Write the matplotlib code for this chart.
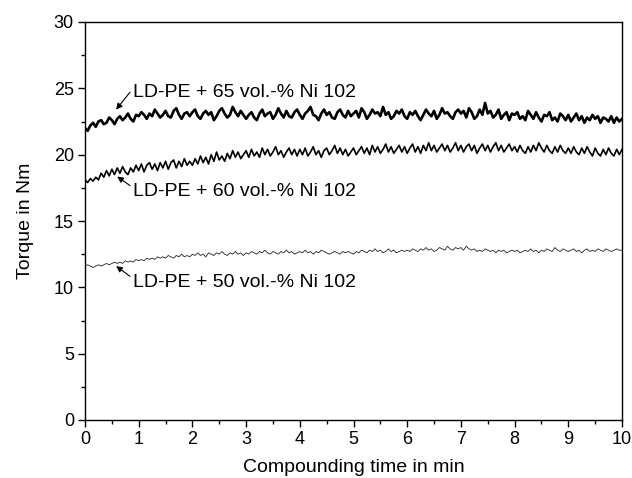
import numpy as np
import matplotlib
matplotlib.use("Agg")
import matplotlib.pyplot as plt
from matplotlib.ticker import MultipleLocator

plt.rcParams['font.family'] = ['Liberation Sans', 'DejaVu Sans']

# torque readings, one every 0.05 min
time = np.arange(201) * 0.05

torque_65 = [
    22.0, 21.8, 22.2, 22.4, 22.1, 22.5, 22.6, 22.3, 22.4, 22.8, 22.6, 22.3, 22.7, 22.9, 22.6, 22.8, 23.1, 22.7, 22.5, 23.0,
    22.9, 23.2, 23.0, 22.7, 23.1, 22.9, 23.4, 23.1, 22.8, 23.0, 23.3, 22.9, 22.8, 23.3, 23.5, 23.0, 22.7, 23.1, 23.2, 22.9,
    23.2, 23.4, 22.9, 22.7, 23.1, 23.3, 23.0, 23.2, 22.6, 22.9, 23.3, 23.5, 23.1, 22.8, 23.0, 23.6, 23.2, 22.9, 23.3, 23.0,
    22.7, 23.0, 23.2, 22.8, 22.6, 23.1, 23.4, 22.9, 23.1, 23.2, 22.7, 23.0, 23.5, 23.1, 22.8, 23.3, 22.9, 22.8, 23.2, 23.4,
    23.0, 22.7, 23.1, 23.3, 23.6, 23.0, 22.9, 22.6, 23.1, 23.4, 23.0, 23.2, 22.8, 22.7, 23.2, 23.4, 23.0, 22.8, 23.3, 22.9,
    23.1, 23.3, 22.8, 23.5, 23.2, 22.7, 23.0, 23.4, 23.1, 23.2, 22.9, 23.6, 23.0, 23.2, 22.7, 22.9, 23.3, 23.1, 23.4, 22.9,
    22.7, 23.2, 23.0, 23.3, 22.9, 22.6, 23.0, 23.4, 23.1, 22.9, 23.3, 22.7, 23.0, 23.5, 23.1, 23.2, 22.9, 22.7, 23.2, 23.4,
    23.1, 23.3, 22.8, 23.5, 23.2, 22.7, 22.9, 23.4, 23.0, 23.9, 23.1, 23.3, 22.8, 23.0, 23.4, 22.7, 23.0, 23.2, 22.6, 23.1,
    23.0, 23.2, 22.7, 22.9, 22.6, 23.3, 23.0, 22.7, 23.2, 22.8, 22.5, 23.0, 22.9, 23.2, 22.6, 22.8, 22.5, 23.1, 22.9, 22.6,
    23.0, 22.5, 22.8, 23.1, 22.6, 22.9, 22.4, 22.8, 22.6, 23.0, 22.7, 22.9, 22.4, 22.8, 22.7, 22.5, 22.9, 22.4, 22.8, 22.5,
    22.7]

torque_60 = [
    18.1, 17.9, 18.2, 18.0, 18.3, 18.1, 18.6, 18.3, 18.8, 18.4, 18.9, 18.5, 19.0, 18.6, 19.1, 18.7, 18.5, 19.0, 18.7, 19.2,
    18.8, 19.3, 18.7, 19.2, 19.4, 18.9, 19.3, 18.8, 19.4, 19.0, 19.5, 18.9, 19.4, 19.6, 19.0, 19.5, 19.1, 19.7, 19.2, 19.5,
    19.2, 19.7, 19.3, 19.9, 19.4, 19.8, 19.3, 20.0, 19.5, 20.2, 19.6, 19.9, 19.5, 20.1, 19.7, 20.3, 19.8, 20.2, 19.7, 20.0,
    20.3, 19.8, 20.4, 19.9, 20.2, 19.8, 20.5, 20.0, 20.4, 19.9, 20.2, 20.6, 20.0, 20.3, 19.8, 20.2, 20.5, 20.0, 20.4, 19.9,
    20.4, 20.0, 20.5, 19.9, 20.2, 20.6, 20.0, 20.3, 19.8, 20.3, 20.5, 20.0, 20.3, 20.7, 20.1, 20.5, 20.0, 20.4, 19.9, 20.2,
    20.5, 20.0, 20.3, 20.6, 20.1, 20.5, 20.0, 20.7, 20.2, 20.6, 20.1, 20.4, 20.8, 20.2, 20.6, 20.1, 20.4, 20.7, 20.2, 20.6,
    20.1, 20.5, 20.8, 20.2, 20.6, 20.1, 20.7, 20.3, 20.9, 20.3, 20.7, 20.2, 20.5, 20.8, 20.3, 20.7, 20.2, 20.5, 20.9, 20.3,
    20.7, 20.2, 20.6, 20.8, 20.3, 20.7, 20.1, 20.5, 20.8, 20.3, 20.7, 20.2, 20.6, 20.9, 20.3, 20.7, 20.2, 20.5, 20.8, 20.3,
    20.6, 20.2, 20.7, 20.3, 20.1, 20.6, 20.2, 20.7, 20.3, 20.9, 20.5, 20.2, 20.7, 20.3, 20.1, 20.6, 20.2, 20.7, 20.3, 20.1,
    20.5, 20.1, 20.6, 20.2, 20.0, 20.5, 20.1, 20.6, 20.2, 19.9, 20.5, 20.1, 19.9, 20.4, 20.0, 20.5, 20.1, 19.9, 20.4, 20.0,
    20.4]

torque_50 = [
    11.6, 11.7, 11.6, 11.5, 11.6, 11.7, 11.6, 11.7, 11.8, 11.7, 11.8, 11.9, 11.8, 11.9, 11.8, 12.0, 11.9, 12.0, 11.9, 12.1,
    12.0, 12.1, 12.0, 12.2, 12.1, 12.2, 12.1, 12.3, 12.2, 12.3, 12.2, 12.4, 12.3, 12.2, 12.4, 12.3, 12.5, 12.3, 12.4, 12.3,
    12.5, 12.4, 12.6, 12.4, 12.5, 12.3, 12.6, 12.5, 12.4, 12.6, 12.5, 12.7, 12.5, 12.4, 12.6, 12.5, 12.7, 12.5, 12.6, 12.4,
    12.6, 12.5, 12.7, 12.6, 12.5, 12.7, 12.6, 12.8, 12.6, 12.5, 12.7, 12.6, 12.5, 12.7, 12.6, 12.8, 12.6, 12.7, 12.5, 12.6,
    12.7, 12.6, 12.8, 12.6, 12.7, 12.5, 12.7, 12.6, 12.8, 12.7, 12.6, 12.5, 12.6, 12.7, 12.6, 12.5, 12.7, 12.6, 12.7, 12.6,
    12.5, 12.7, 12.6, 12.8, 12.7, 12.6, 12.8, 12.7, 12.9, 12.7, 12.8, 12.6, 12.7, 12.9, 12.7, 12.8, 12.6, 12.7, 12.8, 12.7,
    12.8, 12.7, 12.9, 12.8, 12.7, 12.9, 12.8, 13.0, 12.8, 12.9, 12.7, 12.8, 13.0, 12.9, 12.8, 13.1, 12.9, 12.8, 13.0, 12.9,
    13.0, 12.8, 13.1, 12.9, 12.8, 12.9, 12.7, 12.8, 12.7, 12.9, 12.8, 12.7, 12.8, 12.6, 12.8, 12.7, 12.8, 12.6, 12.7, 12.8,
    12.7, 12.8, 12.6, 12.7, 12.8, 12.7, 12.9, 12.7, 12.8, 12.6, 12.8, 12.7, 12.9, 12.8, 12.7, 13.0, 12.8, 12.7, 12.9, 12.8,
    12.7, 12.8, 12.9, 12.7, 12.8, 12.6, 12.8, 12.9, 12.7, 12.8, 12.7, 12.9, 12.8, 12.7, 12.9, 12.8, 12.7, 12.8, 12.9, 12.8,
    12.8]

labels = ["LD-PE + 65 vol.-% Ni 102", "LD-PE + 60 vol.-% Ni 102", "LD-PE + 50 vol.-% Ni 102"]

fig = plt.figure(figsize=(6.32, 4.78), dpi=100)
ax = fig.add_axes([85/632, 1-420/478, 537/632, 398/478])

ax.plot(time, torque_65, color='black', lw=1.9)
ax.plot(time, torque_60, color='black', lw=1.2)
ax.plot(time, torque_50, color='#222222', lw=0.6)

# text position, arrow tip
notes = [((0.89, 24.65), (0.58, 23.4)),
         ((0.89, 17.2), (0.6, 18.35)),
         ((0.89, 10.35), (0.58, 11.6))]
for lab, (txt, tip) in zip(labels, notes):
    ax.annotate(lab, xy=tip, xytext=txt, fontsize=14, va='center', ha='left',
                arrowprops=dict(arrowstyle='-|>', color='black', lw=0.8,
                                mutation_scale=9, shrinkA=0, shrinkB=0,
                                relpos=(0, 0.75)))

ax.set_xlim(0, 10)
ax.set_ylim(0, 30)
ax.xaxis.set_major_locator(MultipleLocator(1))
ax.xaxis.set_minor_locator(MultipleLocator(0.5))
ax.yaxis.set_major_locator(MultipleLocator(5))
ax.yaxis.set_minor_locator(MultipleLocator(2.5))
ax.tick_params(which='both', direction='out', top=False, right=False, labelsize=13, width=1.0)
ax.tick_params(which='major', length=5, pad=3)
ax.tick_params(which='minor', length=3)
for s in ax.spines.values():
    s.set_linewidth(1.0)

ax.set_xlabel("Compounding time in min", fontsize=14, labelpad=8)
ax.set_ylabel("Torque in Nm", fontsize=14, labelpad=14)

fig.savefig("out.png", dpi=100)
